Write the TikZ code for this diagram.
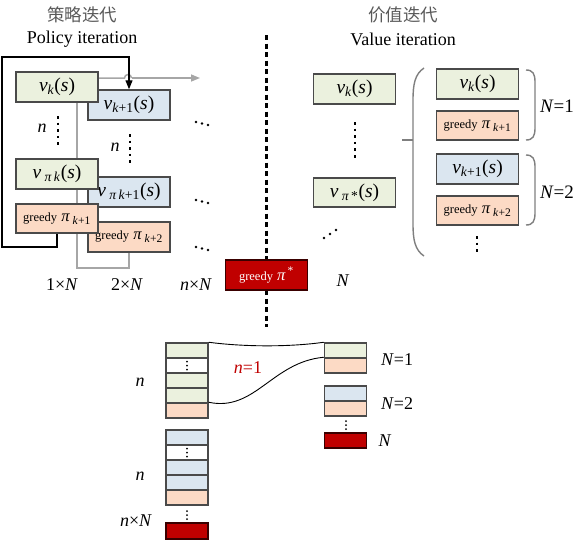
\documentclass[tikz,border=0pt]{standalone}
\usepackage{fontspec}
\setmainfont{Liberation Serif}
\newfontfamily\cjk{Noto Sans CJK SC}
\usetikzlibrary{arrows.meta}
\definecolor{gfill}{HTML}{EBF1DE}
\definecolor{bfill}{HTML}{DBE6F0}
\definecolor{pfill}{HTML}{FCDAC5}
\definecolor{rfill}{HTML}{C00000}
\definecolor{bord}{HTML}{4A4A4A}
\definecolor{lgray}{HTML}{A6A6A6}
\definecolor{mgray}{HTML}{7F7F7F}
\definecolor{tgray}{HTML}{595959}
\newcommand{\gr}{{\fontsize{12.5}{14}\selectfont greedy}\ }
\tikzset{
  cell/.style={draw=bord, line width=1.5pt, minimum width=82pt, minimum height=30pt, inner sep=0pt, font=\fontsize{19.5}{21}\selectfont},
  gcell/.style={cell, fill=gfill},
  bcell/.style={cell, fill=bfill},
  pcell/.style={cell, fill=pfill, font=\fontsize{16.5}{18}\selectfont},
  rcell/.style={cell, fill=rfill, draw=black!70!rfill, text=white, font=\fontsize{16.5}{18}\selectfont},
  scell/.style={draw=bord, line width=1.5pt, minimum width=42pt, minimum height=15pt, inner sep=0pt},
  sg/.style={scell, fill=gfill},
  sb/.style={scell, fill=bfill},
  sp/.style={scell, fill=pfill},
  sw/.style={scell, fill=white},
  sr/.style={scell, fill=rfill, draw=black!70!rfill, minimum height=16pt},
  lbl/.style={font=\fontsize{18}{20}\selectfont, inner sep=0pt},
  title/.style={font=\fontsize{18}{20}\selectfont, inner sep=0pt},
  ctitle/.style={font=\cjk\fontsize{17.5}{20}\selectfont, text=tgray, inner sep=0pt},
  dotv/.style={line width=2.6pt, dash pattern=on 2.6pt off 4pt},
  bigdots/.style={line width=3pt, dash pattern=on 5pt off 3.5pt},
  grayln/.style={draw=lgray, line width=1.5pt},
  blkln/.style={draw=black, line width=1.2pt},
  brk/.style={draw=mgray, line width=1.4pt},
  curve/.style={draw=black, line width=0.9pt}
}
\begin{document}
\begin{tikzpicture}[x=1pt,y=-1pt]
\useasboundingbox (0,0) rectangle (585,542);
% titles
\node[ctitle] (t1) at (82,15) {策略迭代};
\node[title] (t2) at (82,39) {Policy iteration};
\node[ctitle] (t3) at (403,15) {价值迭代};
\node[title] (t4) at (403,39) {Value iteration};
% central dotted divider
\draw[bigdots] (266,35) -- (266,327);
% gray lines (behind boxes)
\coordinate (hop1) at (124.5,78);
\draw[grayln] (98,78) -- (hop1) arc[start angle=180,end angle=0,radius=3.5pt] -- (131.5,78);
\coordinate (gend) at (200,78);
\draw[grayln,-{Triangle[length=9pt,width=7pt]}] (131.5,78) -- (gend);
\coordinate (gv1) at (77,102);
\coordinate (gv2) at (77,268);
% right column of policy iteration
\node[bcell] (vk1) at (129,105) {\textit{v}\textsubscript{\textit{k}+1}(\textit{s})};
\node[bcell] (vpk1) at (129,192) {\textit{v}\,\textsubscript{\textit{π}\,\textit{k}+1}(\textit{s})};
\node[pcell] (gk2) at (129,237) {\gr\textit{π}\,\textsubscript{\textit{k}+2}};
\draw[grayln] (gv1) -- (gv2) -| (gk2.south);
% left column
\node[gcell] (vk) at (57,87) {\textit{v}\textsubscript{\textit{k}}(\textit{s})};
\node[gcell] (vpk) at (57,174) {\textit{v}\,\textsubscript{\textit{π}\,\textit{k}}(\textit{s})};
\node[pcell, minimum height=29pt] (gk1) at (57,218.5) {\gr\textit{π}\,\textsubscript{\textit{k}+1}};
% black loop
\coordinate (lp1) at (57,247);
\coordinate (lp2) at (2,57);
\draw[blkln,-{Triangle[length=9pt,width=7pt]}] (gk1.south) -- (lp1) -| (lp2) -| (vk1.north);
% vertical dots and n
\draw[dotv] (58,116) -- (58,148);
\draw[dotv] (130,134) -- (130,166);
\node[lbl] (n1) at (42,128) {\textit{n}};
\node[lbl] (n2) at (115,147) {\textit{n}};
% horizontal ellipses
\foreach \y in {122,200,247} {
  \fill (196,\y) circle (1.3pt);
  \fill (202,\y+1.5) circle (1.3pt);
  \fill (208,\y+3) circle (1.3pt);
}
% bottom labels
\node[lbl] (l1) at (62,285) {1×\textit{N}};
\node[lbl] (l2) at (127,285) {2×\textit{N}};
\node[lbl] (l3) at (196,285) {\textit{n}×\textit{N}};
% greedy pi*
\node[rcell] (gstar) at (266.5,275) {\gr\textit{π}\textsuperscript{\,*}};
\node[lbl] (nN) at (343,281) {\textit{N}};
% value iteration left column
\node[gcell, minimum height=30pt] (wvk) at (354.5,89) {\textit{v}\textsubscript{\textit{k}}(\textit{s})};
\node[gcell, minimum height=29pt] (wvs) at (354.5,192.5) {\textit{v}\,\textsubscript{\textit{π}\,*}(\textit{s})};
\draw[dotv] (355,122) -- (355,160);
\fill (324,238) circle (1.3pt);
\fill (330,234) circle (1.3pt);
\fill (336,230) circle (1.3pt);
% big bracket
\draw[brk] (424,68) .. controls (415,74) and (413,84) .. (413,100) -- (413,224) .. controls (413,240) and (415,250) .. (424,256);
\coordinate (tick) at (402,140);
\draw[brk] (tick) -- (413,140);
% value iteration right column
\node[gcell] (rvk) at (477.5,84) {\textit{v}\textsubscript{\textit{k}}(\textit{s})};
\node[pcell, minimum height=29pt] (rg1) at (477.5,125.5) {\gr\textit{π}\,\textsubscript{\textit{k}+1}};
\node[bcell] (rvk1) at (477.5,169) {\textit{v}\textsubscript{\textit{k}+1}(\textit{s})};
\node[pcell, minimum height=29pt] (rg2) at (477.5,210.5) {\gr\textit{π}\,\textsubscript{\textit{k}+2}};
\draw[dotv] (477,236) -- (477,254);
% right small brackets
\draw[brk] (526,70) .. controls (533,70) and (535,74) .. (535,82) -- (535,128) .. controls (535,136) and (533,140) .. (526,140);
\draw[brk] (526,155) .. controls (533,155) and (535,159) .. (535,167) -- (535,213) .. controls (535,221) and (533,225) .. (526,225);
\node[lbl, font=\fontsize{19}{20}\selectfont] (N1) at (557,106) {\textit{N}=1};
\node[lbl, font=\fontsize{19}{20}\selectfont] (N2) at (557,192) {\textit{N}=2};
% bottom stacks left
\node[sg] (a1) at (187,350.5) {};
\node[sw] (a2) at (187,365.5) {};
\node[sg] (a3) at (187,380.5) {};
\node[sg] (a4) at (187,395.5) {};
\node[sp] (a5) at (187,410.5) {};
\node[sb] (b1) at (187,437.5) {};
\node[sw] (b2) at (187,452.5) {};
\node[sb] (b3) at (187,467.5) {};
\node[sb] (b4) at (187,482.5) {};
\node[sp] (b5) at (187,497.5) {};
\node[sr] (c1) at (187,531) {};
\foreach \nd in {a2,b2} {
  \fill ([yshift=4pt]\nd.center) circle (1pt);
  \fill (\nd.center) circle (1pt);
  \fill ([yshift=-4pt]\nd.center) circle (1pt);
}
\fill (187,511) circle (1pt);
\fill (187,515) circle (1pt);
\fill (187,519) circle (1pt);
\node[lbl] (bn1) at (140,382) {\textit{n}};
\node[lbl] (bn2) at (140,476) {\textit{n}};
\node[lbl] (bnN) at (136,521) {\textit{n}×\textit{N}};
% bottom stacks right
\node[sg] (r1) at (345.5,350.5) {};
\node[sp] (r2) at (345.5,365.5) {};
\node[sb] (r3) at (345.5,393.5) {};
\node[sp] (r4) at (345.5,408.5) {};
\node[sr, minimum height=15pt] (r5) at (345.5,440.5) {};
\fill (346,421) circle (1pt);
\fill (346,425) circle (1pt);
\fill (346,429) circle (1pt);
\node[lbl] (bN1) at (397,360) {\textit{N}=1};
\node[lbl] (bN2) at (397,404) {\textit{N}=2};
\node[lbl] (bN) at (385,441) {\textit{N}};
\node[lbl, text=rfill] (n1lbl) at (248,368) {\textit{n}=1};
% connecting curves
\draw[curve] (a1.north east) .. controls (245,347) and (290,347) .. (r1.north west);
\draw[curve] (a5.north east) .. controls (255,412) and (272,362) .. (r2.north west);
\end{tikzpicture}
\end{document}
